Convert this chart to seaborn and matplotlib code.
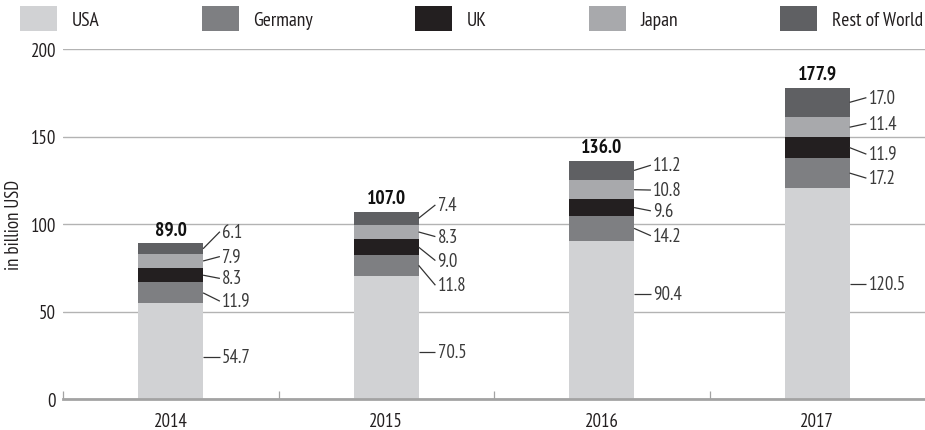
import numpy as np
import pandas as pd
import matplotlib
matplotlib.use("Agg")
import matplotlib.pyplot as plt
from matplotlib.patches import Patch
import seaborn as sns

# ---- data ----
years = ["2014", "2015", "2016", "2017"]
series = ["USA", "Germany", "UK", "Japan", "Rest of World"]
usa = [54.7, 70.5, 90.4, 120.5]
germany = [11.9, 11.8, 14.2, 17.2]
uk = [8.3, 9.0, 9.6, 11.9]
japan = [7.9, 8.3, 10.8, 11.4]
rest = [6.1, 7.4, 11.2, 17.0]
totals = [89.0, 107.0, 136.0, 177.9]
yticks = [0, 50, 100, 150, 200]

# label placement (annotation layout, in data units: text centre heights)
label_heights = {
    "USA": [24.1, 26.9, 59.9, 65.5],
    "Germany": [55.9, 65.0, 93.3, 126.2],
    "UK": [68.9, 79.1, 107.5, 139.9],
    "Japan": [81.4, 92.8, 119.4, 157.4],
    "Rest of World": [95.6, 110.9, 133.6, 172.2],
}

colors = {
    "USA": "#d1d2d4",
    "Germany": "#7e7f82",
    "UK": "#231f20",
    "Japan": "#a8a9ac",
    "Rest of World": "#5f6063",
}

sns.set_theme(style="white")
plt.rcParams["font.family"] = ["PT Sans Narrow", "DejaVu Sans"]

values = {"USA": usa, "Germany": germany, "UK": uk, "Japan": japan, "Rest of World": rest}
df = pd.DataFrame(values, index=years)
cum = df.cumsum(axis=1)

fig = plt.figure(figsize=(9.25, 4.31), dpi=100)
ax = fig.add_axes([63 / 925, 31 / 431, 862 / 925, 350 / 431])

bar_w = 0.30
# draw cumulative stacks from top layer down
for s in reversed(series):
    d = pd.DataFrame({"year": years, "val": cum[s].values})
    sns.barplot(data=d, x="year", y="val", order=years, color=colors[s],
                width=bar_w, saturation=1, ax=ax, linewidth=0, zorder=3)

ax.set_xlim(-0.5, 3.5)
ax.set_ylim(0, 200)
ax.set_yticks(yticks)
ax.set_yticklabels([str(t) for t in yticks])
ax.yaxis.grid(True, color="#b3b3b3", linewidth=1.0, zorder=0)
ax.xaxis.grid(False)
ax.set_axisbelow(True)
for sp in ["top", "right", "left"]:
    ax.spines[sp].set_visible(False)
ax.spines["bottom"].set_color("#a3a3a3")
ax.spines["bottom"].set_linewidth(2.0)
ax.spines["bottom"].set_zorder(4)

ax.tick_params(axis="y", length=0, pad=5, labelsize=13.5, labelcolor="#231f20")
ax.tick_params(axis="x", which="major", length=0, pad=9.5, labelsize=13.5, labelcolor="#231f20")
ax.set_xticks([-0.5, 0.5, 1.5, 2.5], minor=True)
ax.tick_params(axis="x", which="minor", direction="in", length=6, width=0.9,
               color="#a3a3a3", bottom=True)
ax.set_xlabel("")
ax.set_ylabel("in billion USD", fontsize=13.5, color="#231f20")
ax.yaxis.set_label_coords(-0.046, 0.5)

# value labels with leader lines
half = bar_w / 2
for i, yr in enumerate(years):
    lower = 0.0
    for s in series:
        v = values[s][i]
        centre = lower + v / 2
        ly = label_heights[s][i]
        sy = ly if s == "USA" else centre
        x0 = i + half
        x1 = x0 + 0.078
        ax.plot([x0, x1], [sy, ly], color="#333333", lw=0.9, zorder=5,
                solid_capstyle="butt", clip_on=False)
        ax.text(x1 + 0.01, ly, f"{v:.1f}", ha="left", va="center",
                fontsize=13.5, color="#3a3a3a", zorder=5)
        lower += v
    ax.annotate(f"{totals[i]:.1f}", (i, totals[i]), xytext=(0, 3.5),
                textcoords="offset points", ha="center", va="bottom",
                fontsize=14, fontweight="bold", color="#111111")

handles = [Patch(facecolor=colors[s], edgecolor="none") for s in series]
fig.legend(handles, series, loc="lower left", ncol=5, mode="expand",
           bbox_to_anchor=(20 / 925, 1 - 32 / 431, 903 / 925, 30 / 431),
           frameon=False, fontsize=14, handlelength=1.9, handleheight=1.6,
           handletextpad=0.75, borderaxespad=0, borderpad=0, labelcolor="#231f20")

fig.savefig("out.png", dpi=100)
